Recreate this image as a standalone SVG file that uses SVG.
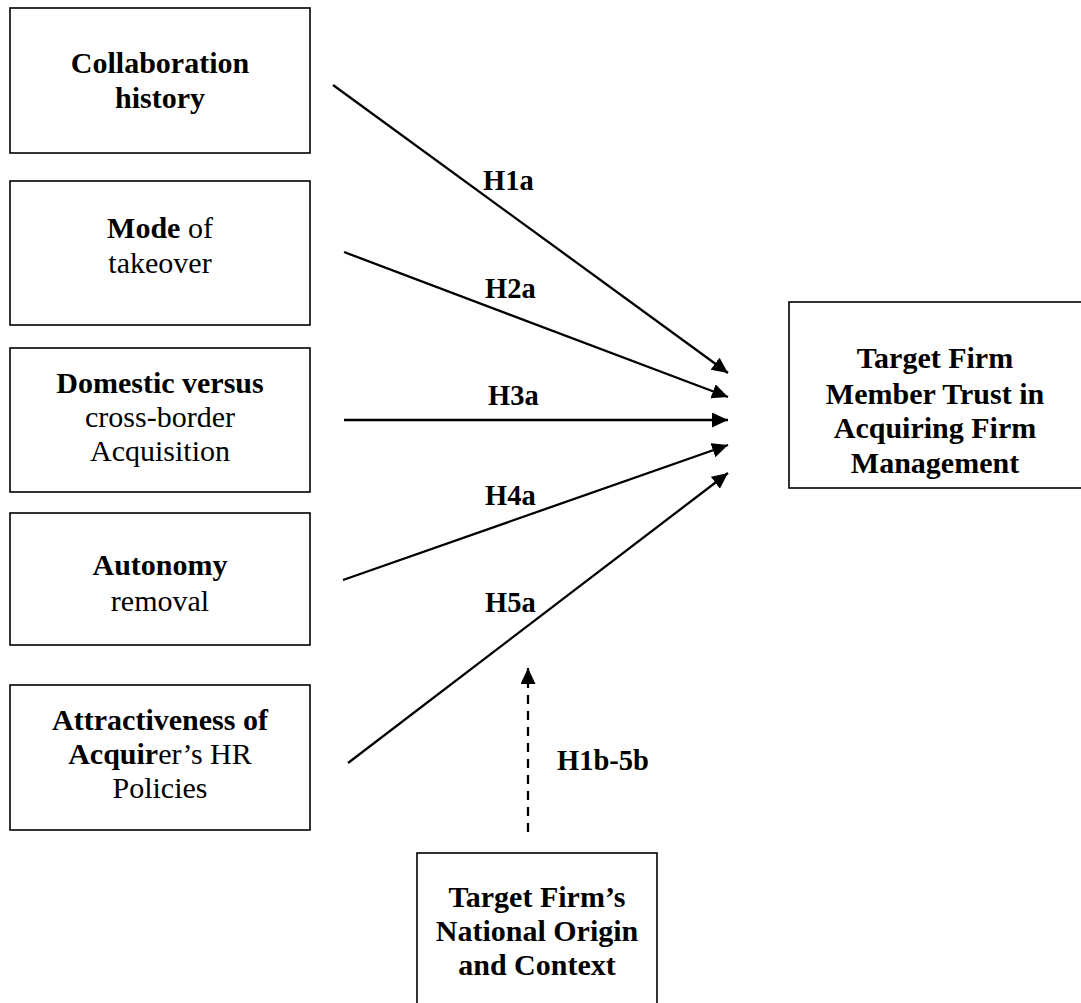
<svg xmlns="http://www.w3.org/2000/svg" width="1081" height="1003" viewBox="0 0 1081 1003">
<style>
.box{fill:#fff;stroke:#000;stroke-width:1.6}
.t{font-family:"Liberation Serif","Times New Roman",serif;font-size:30px;text-anchor:middle;fill:#000}
.b{font-weight:bold}
.lbl{font-family:"Liberation Serif","Times New Roman",serif;font-size:28.5px;font-weight:bold;fill:#000}
.c{stroke:#000;stroke-width:2.3;fill:none}
.d{stroke:#000;stroke-width:2.3;fill:none;stroke-dasharray:9,7}
</style>
<defs>
<marker id="ah" markerUnits="userSpaceOnUse" markerWidth="18" markerHeight="16" refX="16" refY="7.5" orient="auto">
<path d="M0,0 L16,7.5 L0,15 z" fill="#000"/>
</marker>
</defs>
<rect width="1081" height="1003" fill="#fff"/>
<g id="n1">
<rect class="box" x="10" y="8" width="300" height="145"/>
<text class="t b" x="160" y="73">Collaboration</text>
<text class="t b" x="160" y="108">history</text>
</g>
<g id="n2">
<rect class="box" x="10" y="181" width="300" height="144"/>
<text class="t" x="160" y="238"><tspan class="b">Mode</tspan> of</text>
<text class="t" x="160" y="273">takeover</text>
</g>
<g id="n3">
<rect class="box" x="10" y="348" width="300" height="144"/>
<text class="t b" x="160" y="393">Domestic versus</text>
<text class="t" x="160" y="427">cross-border</text>
<text class="t" x="160" y="461">Acquisition</text>
</g>
<g id="n4">
<rect class="box" x="10" y="513" width="300" height="132"/>
<text class="t b" x="160" y="575">Autonomy</text>
<text class="t" x="160" y="611">removal</text>
</g>
<g id="n5">
<rect class="box" x="10" y="685" width="300" height="145"/>
<text class="t b" x="160" y="730">Attractiveness of</text>
<text class="t" x="160" y="764"><tspan class="b">Acquir</tspan>er’s HR</text>
<text class="t" x="160" y="798">Policies</text>
</g>
<g id="n6">
<rect class="box" x="789" y="302" width="300" height="186"/>
<text class="t b" x="935" y="368">Target Firm</text>
<text class="t b" x="935" y="404">Member Trust in</text>
<text class="t b" x="935" y="438">Acquiring Firm</text>
<text class="t b" x="935" y="473">Management</text>
</g>
<g id="n7">
<rect class="box" x="417" y="853" width="240" height="160"/>
<text class="t b" x="537" y="907">Target Firm’s</text>
<text class="t b" x="537" y="941">National Origin</text>
<text class="t b" x="537" y="975">and Context</text>
</g>
<g id="connectors">
<line class="c" x1="333" y1="85" x2="728" y2="373" marker-end="url(#ah)"/>
<line class="c" x1="344" y1="252" x2="728" y2="397" marker-end="url(#ah)"/>
<line class="c" x1="344" y1="420" x2="728" y2="420" marker-end="url(#ah)"/>
<line class="c" x1="343" y1="580" x2="728" y2="445" marker-end="url(#ah)"/>
<line class="c" x1="348" y1="763" x2="728" y2="473" marker-end="url(#ah)"/>
<line class="d" x1="528" y1="832" x2="528" y2="668" marker-end="url(#ah)"/>
<text class="lbl" x="483" y="190">H1a</text>
<text class="lbl" x="485" y="298">H2a</text>
<text class="lbl" x="488" y="405">H3a</text>
<text class="lbl" x="485" y="505">H4a</text>
<text class="lbl" x="485" y="612">H5a</text>
<text class="lbl" x="557" y="770">H1b-5b</text>
</g>
</svg>
